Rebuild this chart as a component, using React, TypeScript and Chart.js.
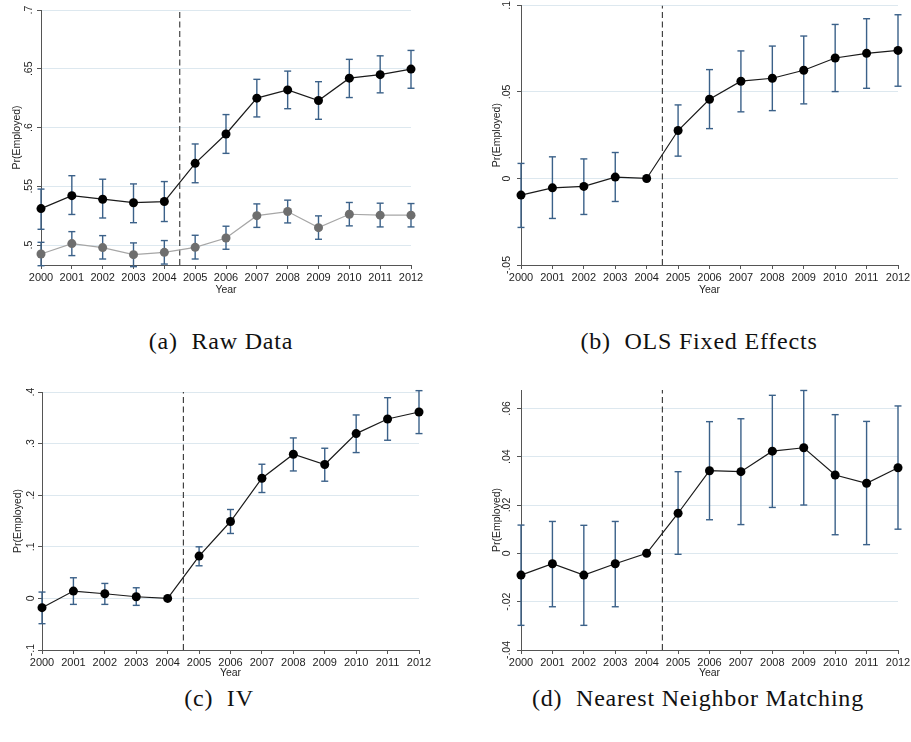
import React, { useEffect, useRef } from "react";
import { Chart, registerables } from "chart.js";

Chart.register(...registerables);

// ---------- data ----------
const years = [2000, 2001, 2002, 2003, 2004, 2005, 2006, 2007, 2008, 2009, 2010, 2011, 2012];
const eventYear = 2004.5;

// (a) Raw data
const rawTreated = [0.531, 0.542, 0.539, 0.536, 0.537, 0.5695, 0.5945, 0.625, 0.632, 0.623, 0.642, 0.645, 0.6497];
const rawTreatedLo = [0.5134, 0.526, 0.523, 0.519, 0.52, 0.553, 0.578, 0.609, 0.616, 0.607, 0.6255, 0.6295, 0.6334];
const rawTreatedHi = [0.5476, 0.559, 0.556, 0.552, 0.554, 0.586, 0.611, 0.641, 0.648, 0.639, 0.658, 0.661, 0.6656];
const rawControl = [0.4924, 0.5012, 0.4978, 0.4918, 0.4938, 0.498, 0.506, 0.525, 0.5285, 0.5148, 0.5262, 0.5254, 0.5254];
const rawControlLo = [0.4824, 0.491, 0.4881, 0.4816, 0.4838, 0.4881, 0.4964, 0.515, 0.5188, 0.5049, 0.5163, 0.5154, 0.5154];
const rawControlHi = [0.5023, 0.5114, 0.508, 0.5018, 0.5038, 0.5083, 0.516, 0.535, 0.5382, 0.5248, 0.5362, 0.5356, 0.5353];
const rawTicks = [0.5, 0.55, 0.6, 0.65, 0.7];

// (b) OLS fixed effects
const olsCoef = [-0.0096, -0.0054, -0.0046, 0.0008, 0, 0.0277, 0.0458, 0.0562, 0.0579, 0.0625, 0.0696, 0.0723, 0.074];
const olsLo = [-0.0283, -0.0231, -0.0208, -0.0133, 0, 0.0129, 0.0288, 0.0385, 0.0392, 0.0431, 0.0502, 0.0521, 0.0533];
const olsHi = [0.0087, 0.0125, 0.0113, 0.015, 0, 0.0425, 0.0629, 0.0737, 0.0765, 0.0823, 0.089, 0.0923, 0.0946];
const olsTicks = [-0.05, 0, 0.05, 0.1];

// (c) IV
const ivCoef = [-0.018, 0.0142, 0.009, 0.0032, 0, 0.082, 0.149, 0.2329, 0.2794, 0.2594, 0.3194, 0.3477, 0.3613];
const ivLo = [-0.049, -0.0116, -0.0116, -0.0135, 0, 0.0632, 0.1258, 0.2052, 0.247, 0.2271, 0.2826, 0.3065, 0.3194];
const ivHi = [0.0123, 0.04, 0.029, 0.0206, 0, 0.1, 0.1723, 0.26, 0.311, 0.291, 0.3555, 0.389, 0.4026];
const ivTicks = [-0.1, 0, 0.1, 0.2, 0.3, 0.4];

// (d) Nearest neighbor matching
const nnmCoef = [-0.009, -0.0043, -0.009, -0.0043, 0, 0.0166, 0.0342, 0.0338, 0.0423, 0.0437, 0.0324, 0.029, 0.0354];
const nnmLo = [-0.0298, -0.0221, -0.0298, -0.0221, 0, -0.0004, 0.0139, 0.0119, 0.019, 0.02, 0.0077, 0.0036, 0.01];
const nnmHi = [0.0117, 0.0132, 0.0116, 0.0132, 0, 0.0338, 0.0545, 0.0557, 0.0654, 0.0674, 0.0574, 0.0546, 0.061];
const nnmTicks = [-0.04, -0.02, 0, 0.02, 0.04, 0.06];

// ---------- styling ----------
const SANS = "'Liberation Sans', Arial, sans-serif";
const NAVY = "#3b6189";
const AXIS = "#555555";
const GRID = "#dde8ef";

function stataFmt(v: number): string {
  const s = String(Number(v.toFixed(4)));
  return s.replace(/^(-?)0\./, "$1.");
}

type Series = { values: number[]; lo: number[]; hi: number[]; line: string; marker: string };

type PanelSpec = {
  left: number;
  top: number;
  width: number;
  height: number;
  areaLeft: number;
  areaRight: number;
  areaTop: number;
  areaBottom: number;
  yMin: number;
  yMax: number;
  yTicks: number[];
  series: Series[];
  xTitlePad: number;
};

function buildConfig(p: PanelSpec): any {
  const datasets: any[] = [];
  p.series.forEach((s) => {
    datasets.push({
      type: "line",
      data: years.map((x, i) => ({ x, y: s.values[i] })),
      borderColor: s.line,
      borderWidth: 1.2,
      pointRadius: 4.5,
      pointBackgroundColor: s.marker,
      pointBorderColor: s.marker,
      pointBorderWidth: 0,
      clip: false,
      order: 0,
    });
  });
  p.series.forEach((s) => {
    const pts: any[] = [];
    years.forEach((x, i) => {
      pts.push({ x, y: s.lo[i] });
      pts.push({ x, y: s.hi[i] });
      pts.push({ x, y: null });
    });
    datasets.push({
      type: "line",
      data: pts,
      borderColor: NAVY,
      borderWidth: 1.4,
      pointStyle: "line",
      pointRadius: 3.5,
      pointBorderColor: NAVY,
      pointBorderWidth: 1.4,
      spanGaps: false,
      clip: false,
      order: 1,
    });
  });
  datasets.push({
    type: "line",
    data: [
      { x: eventYear, y: p.yMin },
      { x: eventYear, y: p.yMax },
    ],
    borderColor: "#333333",
    borderWidth: 1.1,
    borderDash: [6, 3.5],
    pointRadius: 0,
    order: 2,
  });

  const areaLeft = p.areaLeft;
  const xHeight = p.height - p.areaBottom;

  return {
    type: "line",
    data: { datasets },
    options: {
      animation: false,
      responsive: false,
      events: [],
      layout: { padding: { left: 0, top: p.areaTop, right: p.width - p.areaRight, bottom: 0 } },
      plugins: { legend: { display: false }, tooltip: { enabled: false }, title: { display: false } },
      scales: {
        x: {
          type: "linear",
          min: 2000,
          max: 2012,
          afterBuildTicks: (s: any) => {
            s.ticks = years.map((v) => ({ value: v }));
          },
          afterFit: (s: any) => {
            s.height = xHeight;
            s.paddingLeft = 0;
            s.paddingRight = 0;
          },
          ticks: {
            autoSkip: false,
            minRotation: 0,
            maxRotation: 0,
            padding: 2,
            color: "#1e1e1e",
            font: { family: SANS, size: 11 },
            callback: (v: any) => String(v),
          },
          grid: { drawOnChartArea: false, drawTicks: true, tickLength: 4, tickColor: AXIS, color: AXIS },
          border: { display: true, color: AXIS, width: 1 },
          title: {
            display: true,
            text: "Year",
            color: "#1e1e1e",
            font: { family: SANS, size: 10.5 },
            padding: { top: 0, bottom: p.xTitlePad },
          },
        },
        y: {
          type: "linear",
          min: p.yMin,
          max: p.yMax,
          afterBuildTicks: (s: any) => {
            s.ticks = p.yTicks.map((v) => ({ value: v }));
          },
          afterFit: (s: any) => {
            s.width = areaLeft;
            s.paddingTop = 0;
            s.paddingBottom = 0;
          },
          ticks: {
            autoSkip: false,
            minRotation: 90,
            maxRotation: 90,
            crossAlign: "center",
            padding: 0.5,
            color: "#1e1e1e",
            font: { family: SANS, size: 10.5 },
            callback: (v: any) => stataFmt(Number(v)),
          },
          grid: { color: GRID, lineWidth: 1, drawTicks: true, tickLength: 4, tickColor: AXIS },
          border: { display: true, color: AXIS, width: 1 },
          title: {
            display: true,
            text: "Pr(Employed)",
            color: "#1e1e1e",
            font: { family: SANS, size: 10.5 },
            padding: { top: areaLeft - 24 - 6.3, bottom: 0 },
          },
        },
      },
    },
  };
}

function Panel({ spec }: { spec: PanelSpec }) {
  const ref = useRef<HTMLCanvasElement | null>(null);
  useEffect(() => {
    if (!ref.current) return;
    const chart = new Chart(ref.current, buildConfig(spec));
    return () => chart.destroy();
  }, [spec]);
  return (
    <canvas
      ref={ref}
      width={spec.width}
      height={spec.height}
      style={{ position: "absolute", left: spec.left, top: spec.top, width: spec.width, height: spec.height }}
    />
  );
}

const panels: PanelSpec[] = [
  {
    left: 0, top: 0, width: 440, height: 300,
    areaLeft: 41, areaRight: 411, areaTop: 10, areaBottom: 265,
    yMin: 0.483, yMax: 0.7, yTicks: rawTicks, xTitlePad: 3.7,
    series: [
      { values: rawTreated, lo: rawTreatedLo, hi: rawTreatedHi, line: "#1a1a1a", marker: "#000000" },
      { values: rawControl, lo: rawControlLo, hi: rawControlHi, line: "#a6a6a6", marker: "#6e6e6e" },
    ],
  },
  {
    left: 460, top: 0, width: 451, height: 300,
    areaLeft: 61, areaRight: 438, areaTop: 5, areaBottom: 265,
    yMin: -0.05, yMax: 0.1, yTicks: olsTicks, xTitlePad: 3.7,
    series: [{ values: olsCoef, lo: olsLo, hi: olsHi, line: "#1a1a1a", marker: "#000000" }],
  },
  {
    left: 0, top: 380, width: 440, height: 300,
    areaLeft: 42, areaRight: 419, areaTop: 12, areaBottom: 270,
    yMin: -0.1, yMax: 0.4, yTicks: ivTicks, xTitlePad: 0.5,
    series: [{ values: ivCoef, lo: ivLo, hi: ivHi, line: "#1a1a1a", marker: "#000000" }],
  },
  {
    left: 460, top: 380, width: 451, height: 300,
    areaLeft: 61, areaRight: 438, areaTop: 10, areaBottom: 270,
    yMin: -0.04, yMax: 0.0676, yTicks: nnmTicks, xTitlePad: 0.5,
    series: [{ values: nnmCoef, lo: nnmLo, hi: nnmHi, line: "#1a1a1a", marker: "#000000" }],
  },
];

const captions = [
  { label: "(a)", text: "Raw Data", cx: 221, top: 327 },
  { label: "(b)", text: "OLS Fixed Effects", cx: 699, top: 327 },
  { label: "(c)", text: "IV", cx: 219, top: 684 },
  { label: "(d)", text: "Nearest Neighbor Matching", cx: 698, top: 684 },
];

export default function App() {
  return (
    <div style={{ position: "absolute", left: 0, top: 0, width: 911, height: 742, background: "#ffffff", overflow: "hidden" }}>
      {panels.map((p, i) => (
        <Panel key={i} spec={p} />
      ))}
      {captions.map((c, i) => (
        <div
          key={"c" + i}
          style={{
            position: "absolute",
            left: c.cx - 250,
            width: 500,
            top: c.top,
            height: 28,
            lineHeight: "28px",
            textAlign: "center",
            fontFamily: "'Liberation Serif', 'Times New Roman', serif",
            fontSize: 24,
            letterSpacing: 0.8,
            color: "#111",
            whiteSpace: "nowrap",
          }}
        >
          {c.label}&nbsp;&nbsp;{c.text}
        </div>
      ))}
    </div>
  );
}
